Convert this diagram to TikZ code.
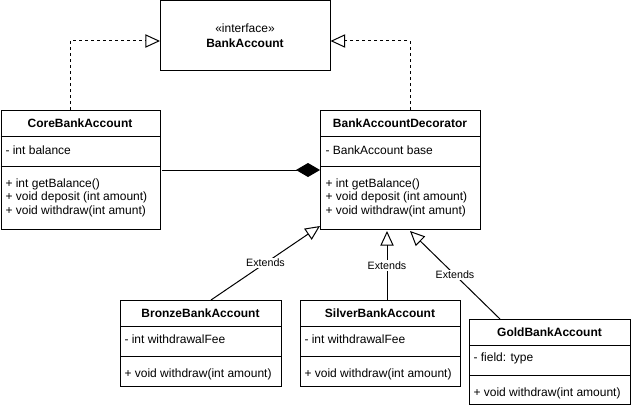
\documentclass[tikz,border=0pt]{standalone}
\usepackage{fontspec}
\setmainfont{Liberation Sans}
\usetikzlibrary{arrows.meta,calc}
\begin{document}
\begin{tikzpicture}[x=0.75pt,y=-0.75pt,line width=0.75pt,
  box/.style={draw,anchor=north west,inner sep=0pt,minimum width=#1},
  ttl/.style={font=\fontsize{9}{10.5}\selectfont\bfseries,inner sep=0pt},
  mem/.style={font=\fontsize{9}{10.1}\selectfont,inner sep=0pt,anchor=west,align=left},
  lbl/.style={font=\fontsize{8}{9.5}\selectfont,fill=white,inner sep=1pt},
  impl/.style={dash pattern=on 2.25pt off 2.25pt,-{Triangle[open,length=11pt,width=10pt]}},
  ext/.style={-{Triangle[open,length=11pt,width=10pt]}},
  comp/.style={-{Diamond[length=18pt,width=10.5pt]}}]
\useasboundingbox (0,0) rectangle (631,410);
% interface
\node[box=127.5pt,minimum height=52.1pt] (iface) at (160,0.5) {};
\node[font=\fontsize{9}{10.5}\selectfont,inner sep=0pt] (ifs) at (245,28) {«interface»};
\node[ttl] (ifn) at (245,43) {BankAccount};
% core
\node[box=119.6pt,minimum height=89.6pt] (core) at (0.5,110) {};
\draw (0.5,136) -- (160,136) (0.5,166) -- (160,166);
\node[ttl] (coreT) at (80,123) {CoreBankAccount};
\node[mem] (coreF) at (5,150) {- int balance};
\node[mem] (coreM) at (5,197.5) {+ int getBalance()\\+ void deposit (int amount)\\+ void withdraw(int amunt)};
% decorator
\node[box=120pt,minimum height=89.6pt] (dec) at (320,110) {};
\draw (320,136) -- (480,136) (320,166) -- (480,166);
\node[ttl] (decT) at (400,123) {BankAccountDecorator};
\node[mem] (decF) at (325,150) {- BankAccount base};
\node[mem] (decM) at (325,197.5) {+ int getBalance()\\+ void deposit (int amount)\\+ void withdraw(int amunt)};
% bronze
\node[box=120.75pt,minimum height=64.5pt] (bronze) at (120,300) {};
\draw (120,326) -- (281,326) (120,356) -- (281,356);
\node[ttl] (bronzeT) at (200.5,313.5) {BronzeBankAccount};
\node[mem] (bronzeF) at (124,339) {- int withdrawalFee};
\node[mem] (bronzeM) at (124,374) {+ void withdraw(int amount)};
% silver
\node[box=120pt,minimum height=64.5pt] (silver) at (300,300) {};
\draw (300,326) -- (460,326) (300,356) -- (460,356);
\node[ttl] (silverT) at (380,313.5) {SilverBankAccount};
\node[mem] (silverF) at (304,339) {- int withdrawalFee};
\node[mem] (silverM) at (304,374) {+ void withdraw(int amount)};
% gold
\node[box=120.75pt,minimum height=63.75pt] (gold) at (469,319) {};
\draw (469,345) -- (630,345) (469,375) -- (630,375);
\node[ttl] (goldT) at (549.5,332.5) {GoldBankAccount};
\node[mem] (goldF) at (473,358.5) {- field: type};
\node[mem] (goldM) at (473,393.5) {+ void withdraw(int amount)};
% connectors
\coordinate (c1) at (70,110);
\coordinate (i1) at (160,41);
\draw[impl] (c1) |- (i1);
\coordinate (c2) at (410,110);
\coordinate (i2) at (330.5,41);
\draw[impl] (c2) |- (i2);
\coordinate (k1) at (162,170);
\coordinate (d1) at (320,170);
\draw[comp] (k1) -- (d1);
\coordinate (b1) at (211,300);
\coordinate (bt) at (320,226);
\draw[ext] (b1) -- node[lbl,pos=0.5] (bl) {Extends} (bt);
\coordinate (s1) at (387,300);
\coordinate (st) at (387,231);
\draw[ext] (s1) -- node[lbl,pos=0.5] (sl) {Extends} (st);
\coordinate (g1) at (500,319);
\coordinate (gt) at (410,231);
\draw[ext] (g1) -- node[lbl,pos=0.5] (gl) {Extends} (gt);
\end{tikzpicture}
\end{document}
